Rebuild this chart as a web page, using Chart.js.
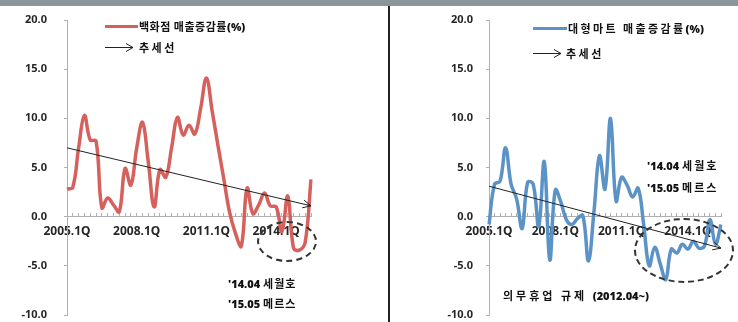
<!DOCTYPE html>
<html>
<head>
<meta charset="utf-8">
<script src="https://cdn.jsdelivr.net/npm/chart.js@4"></script>
<style>
  body { margin: 0; width: 738px; height: 322px; position: relative; overflow: hidden; background: #fff;
         font-family: 'Noto Sans CJK KR', 'Noto Sans', sans-serif; }
  .band { position: absolute; left: 0; top: 0; width: 738px; height: 6px; background: #8a9699; }
  .divider { position: absolute; left: 388px; top: 6px; width: 2px; height: 316px; background: #222; }
  .box { position: absolute; top: 0; height: 322px; }
  .t { position: absolute; font-weight: 700; font-size: 11px; color: #111; white-space: nowrap;
       line-height: 14px; letter-spacing: 1px; }
  .t b { letter-spacing: 0; font-family: 'Noto Sans', sans-serif; }
  .swatch { position: absolute; height: 3px; }
  .ell { position: absolute; border: 2px dashed #333; border-radius: 50%; }
  svg { position: absolute; }
</style>
</head>
<body>
<div class="band"></div>
<div class="box" style="left:0;width:388px"><canvas id="deptChart"></canvas></div>
<div class="box" style="left:390px;width:348px"><canvas id="martChart"></canvas></div>
<div class="divider"></div>

<!-- left legend -->
<div class="swatch" style="left:105px;top:25px;width:33px;background:#d6605b"></div>
<div class="t" style="left:139px;top:19px;letter-spacing:0.5px">백화점 매출증감률<b>(%)</b></div>
<svg style="left:104px;top:42px" width="32" height="11"><path d="M1 5.5H29M22 1.5L29 5.5L22 9.5" stroke="#222" fill="none" stroke-width="1"/></svg>
<div class="t" style="left:139px;top:40px;letter-spacing:2.5px">추세선</div>

<!-- right legend -->
<div class="swatch" style="left:533px;top:27px;width:34px;background:#5b93c7"></div>
<div class="t" style="left:568px;top:21px;letter-spacing:2.4px">대형마트 매출증감률<b>(%)</b></div>
<svg style="left:532px;top:48px" width="32" height="11"><path d="M1 5.5H29M22 1.5L29 5.5L22 9.5" stroke="#222" fill="none" stroke-width="1"/></svg>
<div class="t" style="left:566px;top:46px;letter-spacing:2.5px">추세선</div>

<!-- annotations -->
<div class="ell" style="left:257px;top:221px;width:56px;height:37px"></div>
<div class="t" style="left:228px;top:276px"><b>'14.04 </b>세월호</div>
<div class="t" style="left:228px;top:296px"><b>'15.05 </b>메르스</div>

<div class="ell" style="left:634px;top:218px;width:96px;height:61px"></div>
<div class="t" style="left:647px;top:158px;letter-spacing:2px"><b>'14.04 </b>세월호</div>
<div class="t" style="left:647px;top:180px;letter-spacing:2px"><b>'15.05 </b>메르스</div>
<div class="t" style="left:503px;top:288px;letter-spacing:3px">의무휴업 규제 <b>(2012.04~)</b></div>

<script>
// quarters 2005.1Q - 2015.3Q
const quarters = [
  '2005.1Q','2005.2Q','2005.3Q','2005.4Q','2006.1Q','2006.2Q','2006.3Q','2006.4Q',
  '2007.1Q','2007.2Q','2007.3Q','2007.4Q','2008.1Q','2008.2Q','2008.3Q','2008.4Q',
  '2009.1Q','2009.2Q','2009.3Q','2009.4Q','2010.1Q','2010.2Q','2010.3Q','2010.4Q',
  '2011.1Q','2011.2Q','2011.3Q','2011.4Q','2012.1Q','2012.2Q','2012.3Q','2012.4Q',
  '2013.1Q','2013.2Q','2013.3Q','2013.4Q','2014.1Q','2014.2Q','2014.3Q','2014.4Q',
  '2015.1Q','2015.2Q','2015.3Q'
];
const xTickLabels = ['2005.1Q', '2008.1Q', '2011.1Q', '2014.1Q'];
const yTicks = [-10, -5, 0, 5, 10, 15, 20];

// 백화점 매출증감률(%)
const deptSales = [
  2.8, 3.0, 7.0, 10.3, 7.8, 7.7, 0.9, 1.9, 1.2, 0.5, 4.9, 3.2,
  7.0, 9.6, 5.5, 1.0, 4.8, 4.0, 7.0, 10.1, 8.3, 9.3, 8.4, 11.0,
  14.1, 10.7, 7.2, 3.8, 0.4, -1.7, -3.0, 2.9, 0.3, 1.2, 2.4, 1.1,
  1.0, -1.5, 2.1, -3.2, -3.4, -2.6, 3.8
];
// 대형마트 매출증감률(%)
const martSales = [
  -0.8, 3.3, 3.6, 7.0, 3.3, 1.8, -1.2, 3.5, 3.3, -1.0, 5.6, -4.4,
  2.7, 1.5, -0.3, -0.8, -0.2, 0.1, -4.5, 0.5, 6.2, 2.8, 10.0, 1.6,
  4.0, 3.2, 2.0, 2.9, -0.8, -5.0, -3.1, -4.8, -6.4, -3.3, -3.7, -2.8,
  -3.3, -2.5, -3.2, -3.0, -0.3, -2.8, -0.8
];
// 추세선 (start, end)
const deptTrend = [{ x: '2005.1Q', y: 7.0 }, { x: '2015.3Q', y: 1.1 }];
const martTrend = [{ x: '2005.1Q', y: 3.1 }, { x: '2015.3Q', y: -3.2 }];

const trendArrow = {
  id: 'trendArrow',
  afterDatasetsDraw(chart) {
    const pts = chart.getDatasetMeta(1).data;
    const a = pts[pts.length - 2], b = pts[pts.length - 1];
    const ang = Math.atan2(b.y - a.y, b.x - a.x);
    const ctx = chart.ctx;
    ctx.save();
    ctx.strokeStyle = '#222';
    ctx.lineWidth = 1;
    ctx.beginPath();
    ctx.moveTo(b.x - 9 * Math.cos(ang - 0.45), b.y - 9 * Math.sin(ang - 0.45));
    ctx.lineTo(b.x, b.y);
    ctx.lineTo(b.x - 9 * Math.cos(ang + 0.45), b.y - 9 * Math.sin(ang + 0.45));
    ctx.stroke();
    ctx.restore();
  }
};

function makeChart(id, values, trend, color, axisWidth, labelPad, rightPad) {
  new Chart(document.getElementById(id), {
    type: 'line',
    data: {
      labels: quarters,
      datasets: [
        { data: values, borderColor: color, borderWidth: 3.5, pointRadius: 0, tension: 0.4, order: 1 },
        { data: trend, borderColor: '#222', borderWidth: 1, pointRadius: 0, tension: 0, order: 0 }
      ]
    },
    options: {
      responsive: true,
      maintainAspectRatio: false,
      animation: false,
      layout: { padding: { top: 20, bottom: 7, left: 0, right: rightPad } },
      plugins: { legend: { display: false }, tooltip: { enabled: false } },
      scales: {
        x: {
          type: 'category',
          position: { y: 0 },
          offset: false,
          afterFit: s => { s.height = 0; },
          border: { color: '#b0b0b0', width: 1 },
          grid: { drawOnChartArea: false, color: '#b0b0b0', tickLength: -4 },
          ticks: {
            autoSkip: false, maxRotation: 0, padding: 12, color: '#262626',
            font: { family: "'Noto Sans', sans-serif", size: 12, weight: 'bold' },
            callback: (v, i) => xTickLabels.includes(quarters[i]) ? quarters[i] : ''
          }
        },
        y: {
          min: -10, max: 20,
          afterFit: s => { s.width = axisWidth; s.paddingTop = 0; s.paddingBottom = 0; },
          afterBuildTicks: s => { s.ticks = yTicks.map(v => ({ value: v })); },
          border: { color: '#b0b0b0', width: 1 },
          grid: { drawOnChartArea: false, color: '#b0b0b0', tickLength: 3 },
          ticks: {
            padding: labelPad, color: '#262626',
            font: { family: "'Noto Sans', sans-serif", size: 11, weight: 'bold' },
            callback: v => v.toFixed(1)
          }
        }
      }
    },
    plugins: [trendArrow]
  });
}

makeChart('deptChart', deptSales, deptTrend, '#d6605b', 67, 17, 77);
makeChart('martChart', martSales, martTrend, '#5b93c7', 99, 13, 17);
</script>
</body>
</html>
